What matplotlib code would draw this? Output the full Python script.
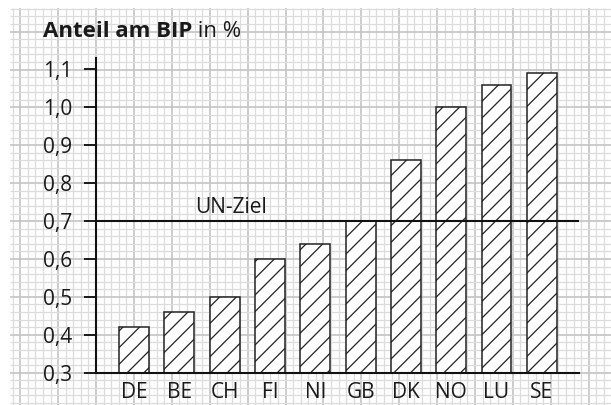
import matplotlib
matplotlib.use("Agg")
import matplotlib.pyplot as plt
import numpy as np

laender = ["DE", "BE", "CH", "FI", "NI", "GB", "DK", "NO", "LU", "SE"]
anteil = [0.42, 0.46, 0.50, 0.60, 0.64, 0.70, 0.86, 1.00, 1.06, 1.09]
un_ziel = 0.7
yticks = [0.3, 0.4, 0.5, 0.6, 0.7, 0.8, 0.9, 1.0, 1.1]
ytick_labels = ["0,3", "0,4", "0,5", "0,6", "0,7", "0,8", "0,9", "1,0", "1,1"]

plt.rcParams['font.family'] = ['Open Sans', 'DejaVu Sans']
plt.rcParams['hatch.linewidth'] = 0.9
plt.rcParams['hatch.color'] = '#222222'

W, H = 611, 405
fig = plt.figure(figsize=(W / 100, H / 100), dpi=100)

# Karopapier im Hintergrund (Pixelkoordinaten)
bg = fig.add_axes([0, 0, 1, 1], zorder=0)
bg.set_xlim(0, W)
bg.set_ylim(H, 0)
bg.axis('off')
cell = 7.58
x0, y0 = 96.0, 372.7
for k in range(-15, 80):
    x = x0 + k * cell
    if 10 <= x <= W:
        major = (k % 5 == 0)
        bg.plot([x, x], [8, H], color='#c4c4c4' if major else '#dcdcdc',
                lw=1.2 if major else 0.9, solid_capstyle='butt')
for k in range(-10, 60):
    y = y0 - k * cell
    if 8 <= y <= H:
        major = (k % 5 == 0)
        bg.plot([10, W], [y, y], color='#c4c4c4' if major else '#dcdcdc',
                lw=1.2 if major else 0.9, solid_capstyle='butt')

# Diagramm
left, right = 96 / W, 579 / W
bottom, top = (H - 372.7) / H, (H - 58) / H
ax = fig.add_axes([left, bottom, right - left, top - bottom], zorder=1)
ax.patch.set_alpha(0)

pos = np.arange(len(laender))
ax.bar(pos, anteil, bottom=0, width=0.66, color='white', edgecolor='#222222',
       linewidth=1.1, hatch='//', zorder=2)
ax.set_xlim(-0.84, 9.82)
ax.set_ylim(0.3, 0.3 + (372.7 - 58) / 379)

ax.axhline(un_ziel, color='#111111', lw=1.5, zorder=3)
ax.text(1.35, 0.721, "UN-Ziel", fontsize=15, ha='left', va='baseline',
        color='#1a1a1a')

ax.set_yticks(yticks)
ax.set_yticklabels(ytick_labels)
ax.set_xticks(pos)
ax.set_xticklabels(laender)
ax.tick_params(axis='y', length=9, width=1.4, pad=8, labelsize=15,
               colors='#1a1a1a')
ax.tick_params(axis='x', length=0, pad=7, labelsize=15, colors='#1a1a1a')

for s in ['top', 'right']:
    ax.spines[s].set_visible(False)
for s in ['left', 'bottom']:
    ax.spines[s].set_linewidth(1.5)
    ax.spines[s].set_color('#111111')

t = fig.text(43 / W, (H - 37) / H, "Anteil am BIP", fontsize=16,
             fontweight='bold', ha='left', va='baseline', color='#1a1a1a')
t2 = fig.text(0, 0, " in %", fontsize=16, ha='left', va='baseline',
              color='#1a1a1a')
fig.canvas.draw()
bb = t.get_window_extent()
t2.set_position((bb.x1 / W, (H - 37) / H))

fig.savefig("out.png", dpi=100)
